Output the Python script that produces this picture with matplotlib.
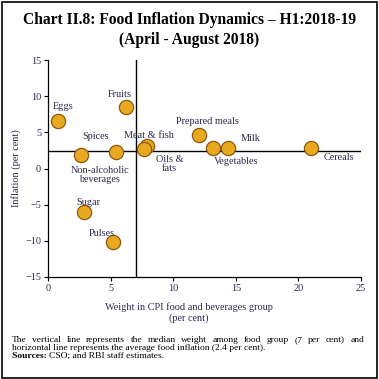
import matplotlib
matplotlib.use("Agg")
import matplotlib.pyplot as plt
from matplotlib.patches import Rectangle

plt.rcParams['font.family'] = ['Liberation Serif', 'DejaVu Serif']

# data: weight in CPI food group (per cent), inflation (per cent)
groups = ['Eggs', 'Fruits', 'Non-alcoholic beverages', 'Spices', 'Meat & fish',
          'Oils & fats', 'Prepared meals', 'Vegetables', 'Milk', 'Cereals',
          'Sugar', 'Pulses']
weights = [0.8, 6.2, 2.6, 5.4, 7.9, 7.7, 12.1, 13.2, 14.4, 21.0, 2.9, 5.2]
inflation = [6.6, 8.5, 1.9, 2.3, 3.1, 2.7, 4.7, 2.9, 2.9, 2.9, -6.0, -10.2]

median_weight = 7
avg_inflation = 2.4

# label text and placement (data coords)
label_text = ['Eggs', 'Fruits', 'Non-alcoholic\nbeverages', 'Spices', 'Meat & fish',
              'Oils &\nfats', 'Prepared meals', 'Vegetables', 'Milk', 'Cereals',
              'Sugar', 'Pulses']
label_pos = [(1.2, 8.6), (5.7, 10.2), (4.15, -0.9), (3.8, 4.4), (8.1, 4.5),
             (9.7, 0.6), (12.7, 6.5), (15.0, 0.9), (16.2, 4.1), (23.2, 1.5),
             (3.2, -4.7), (4.3, -9.0)]

W, H = 379, 379
TXT = '#2a2a50'


def justified_line(fig, text, x0, x1, y, size):
    """Spread the words of one line evenly between x0 and x1 (pixels)"""
    words = text.split(' ')
    renderer = fig.canvas.get_renderer()
    arts = [fig.text(0, 1 - y / H, w, ha='left', va='center', fontsize=size)
            for w in words]
    widths = [a.get_window_extent(renderer).width for a in arts]
    gap = (x1 - x0 - sum(widths)) / (len(words) - 1)
    x = x0
    for a, w in zip(arts, widths):
        a.set_x(x / W)
        x += w + gap


fig = plt.figure(figsize=(W / 100, H / 100), dpi=100)
fig.patches.append(Rectangle((1.5 / W, 1.5 / H), 1 - 3.5 / W, 1 - 3.5 / H,
                             transform=fig.transFigure, fill=False,
                             edgecolor='black', linewidth=1.2))

ax = fig.add_axes([48 / W, 1 - 277 / H, (361 - 48) / W, (277 - 60) / H])

ax.axvline(median_weight, color='black', linewidth=1.0, zorder=1)
ax.axhline(avg_inflation, color='black', linewidth=1.0, zorder=1)

ax.scatter(weights, inflation, s=105, color='#E8A820', edgecolor='#8A5A10',
           linewidth=0.9, zorder=3)

for txt, (lx, ly) in zip(label_text, label_pos):
    ax.text(lx, ly, txt, ha='center', va='center', fontsize=7.4,
            color=TXT, linespacing=1.05, zorder=4)

ax.set_xlim(0, 25)
ax.set_ylim(-15, 15)
ax.set_xticks([0, 5, 10, 15, 20, 25])
ax.set_yticks([-15, -10, -5, 0, 5, 10, 15])
ax.tick_params(labelsize=7.4, length=3, width=0.8, colors='black',
               labelcolor=TXT, pad=2)
for s in ['top', 'right']:
    ax.spines[s].set_visible(False)
for s in ['left', 'bottom']:
    ax.spines[s].set_linewidth(0.9)

ax.set_ylabel('Inflation (per cent)', fontsize=7.4, color=TXT, labelpad=3)
fig.text(189 / W, 1 - 313 / H, 'Weight in CPI food and beverages group\n(per cent)',
         ha='center', va='center', fontsize=7.4, color=TXT, linespacing=1.2)

fig.text(0.5, 1 - 20 / H, 'Chart II.8: Food Inflation Dynamics \u2013 H1:2018-19',
         ha='center', va='center', fontsize=11.2, fontweight='bold')
fig.text(0.5, 1 - 40 / H, '(April - August 2018)',
         ha='center', va='center', fontsize=11.2, fontweight='bold')

fs = 6.8
justified_line(fig, 'The vertical line represents the median weight among food '
               'group (7 per cent) and', 12, 364, 340, fs)
fig.text(12 / W, 1 - 348 / H,
         'horizontal line represents the average food inflation (2.4 per cent).',
         ha='left', va='center', fontsize=fs)
src = fig.text(12 / W, 1 - 356 / H, 'Sources: ', ha='left', va='center',
               fontsize=fs, fontweight='bold')
sw = src.get_window_extent(fig.canvas.get_renderer()).width
fig.text((12 + sw) / W, 1 - 356 / H, 'CSO; and RBI staff estimates.', ha='left',
         va='center', fontsize=fs)

fig.savefig('out.png', dpi=100)
